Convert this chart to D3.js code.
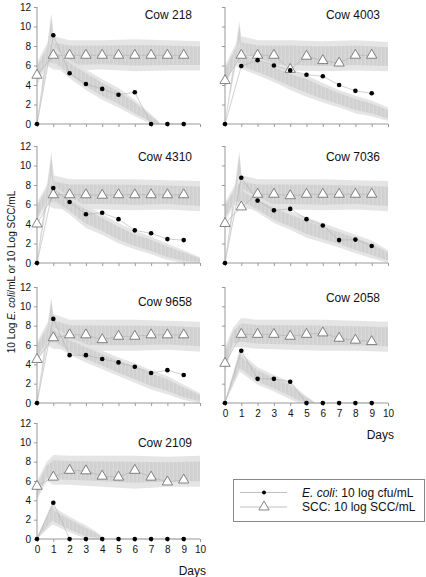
<!DOCTYPE html>
<html>
<head>
<meta charset="utf-8">
<script src="https://cdn.jsdelivr.net/npm/d3@7"></script>
<style>
  html, body { margin: 0; padding: 0; background: #fff; }
  svg { display: block; font-family: Arial, "Liberation Sans", sans-serif; }
</style>
</head>
<body>
<svg id="chart" width="426" height="577"></svg>
<script>
// ---------------- DATA ----------------
const days = [0, 1, 2, 3, 4, 5, 6, 7, 8, 9];
const xTickLabels = [0, 1, 2, 3, 4, 5, 6, 7, 8, 9, 10];
const yTickLabels = [0, 2, 4, 6, 8, 10, 12];
const cowLabels = ["Cow 218", "Cow 4003", "Cow 4310", "Cow 7036", "Cow 9658", "Cow 2058", "Cow 2109"];

// E. coli: 10 log cfu/mL (black dots)
const ecoli218  = [0, 9.1, 5.2, 4.1, 3.6, 3.0, 3.25, 0, 0, 0];
const ecoli4003 = [0, 5.95, 6.55, 6.0, 5.5, 5.05, 4.9, 4.0, 3.4, 3.15];
const ecoli4310 = [0, 7.7, 6.25, 5.0, 5.15, 4.5, 3.35, 3.05, 2.45, 2.35];
const ecoli7036 = [0, 8.75, 6.4, 5.4, 5.55, 4.5, 3.85, 2.35, 2.4, 1.75];
const ecoli9658 = [0, 8.7, 4.95, 4.95, 4.55, 4.2, 3.75, 3.1, 3.4, 2.9];
const ecoli2058 = [0, 5.4, 2.5, 2.5, 2.2, 0, 0, 0, 0, 0];
const ecoli2109 = [0, 3.75, 0, 0, 0, 0, 0, 0, 0, 0];

// SCC: 10 log SCC/mL (open triangles)
const scc218  = [5.0, 7.05, 7.05, 7.05, 7.05, 7.05, 7.05, 7.05, 7.05, 7.05];
const scc4003 = [4.45, 7.05, 7.05, 7.05, 5.6, 6.95, 6.5, 6.25, 7.05, 7.05];
const scc4310 = [4.0, 7.0, 7.0, 7.0, 6.95, 7.0, 7.0, 7.0, 7.0, 7.0];
const scc7036 = [4.05, 5.75, 7.05, 7.05, 6.9, 7.05, 7.05, 7.05, 7.05, 7.05];
const scc9658 = [4.5, 6.75, 7.05, 7.05, 6.55, 6.9, 6.9, 7.05, 7.05, 7.05];
const scc2058 = [4.1, 7.1, 7.1, 7.1, 6.9, 7.1, 7.25, 6.7, 6.5, 6.35];
const scc2109 = [5.45, 6.4, 7.1, 7.05, 6.5, 6.4, 7.1, 6.4, 5.9, 6.1];

// Grey simulation envelopes: [day, low, high]
const ecoliBand218  = [[0,0,0.2],[0.88,8.6,11.4],[1.1,6.0,7.8],[2,4.7,6.6],[3,3.5,5.6],[4,2.5,4.6],[5,1.7,3.7],[6,0.8,2.5],[7,0,1.0],[7.5,0,0.2]];
const ecoliBand4003 = [[0,0,0.2],[0.88,8.0,10.6],[1.1,5.6,7.4],[2,5.0,6.8],[3,4.3,6.2],[4,3.5,5.5],[5,2.8,5.0],[6,2.2,4.2],[7,1.7,3.5],[8,1.1,2.9],[9,0.8,2.4],[10,0.3,1.7]];
const ecoliBand4310 = [[0,0,0.2],[0.88,8.5,11.4],[1.1,6.0,7.8],[2,5.0,6.8],[3,3.6,5.9],[4,2.9,5.0],[5,2.0,4.1],[6,1.4,3.3],[7,0.9,2.7],[8,0.3,2.0],[9,0,1.3],[10,0,0.6]];
const ecoliBand7036 = [[0,0,0.2],[0.88,8.8,11.5],[1.1,6.0,7.6],[2,5.2,6.8],[3,4.1,6.0],[4,3.4,5.3],[5,2.6,4.7],[6,2.1,4.1],[7,1.6,3.5],[8,1.0,2.9],[9,0.5,2.3],[10,0,1.3]];
const ecoliBand9658 = [[0,0,0.2],[0.88,8.5,11.0],[1.1,6.0,7.8],[2,5.0,6.8],[3,4.2,6.1],[4,3.5,5.4],[5,2.8,4.7],[6,2.1,4.1],[7,1.4,3.4],[8,0.9,2.8],[9,0.3,1.9],[10,0,1.0]];
const ecoliBand2058 = [[0,0,0.2],[0.9,3.2,5.6],[1.1,3.0,5.0],[2,1.9,3.7],[3,1.2,2.9],[4,0.4,2.2],[4.5,0,1.4],[5,0,0.7],[5.5,0,0.1]];
const ecoliBand2109 = [[0,0,0.2],[0.95,1.5,3.8],[1.1,1.4,3.2],[2,0.7,2.3],[3,0,1.4],[3.6,0,0.8],[4.1,0,0.1]];

const sccBand218  = [[0,4.0,6.3],[0.6,6.0,8.2],[1,5.6,9.0],[2,5.5,8.6],[4,5.6,8.6],[6,5.4,8.7],[8,5.5,8.6],[10,5.5,8.5]];
const sccBand4003 = [[0,3.8,6.0],[0.6,6.0,8.0],[1,5.6,9.0],[2,5.6,8.6],[4,5.5,8.6],[6,5.4,8.5],[8,5.5,8.6],[10,5.4,8.4]];
const sccBand4310 = [[0,4.3,6.2],[0.6,6.0,8.0],[1,5.6,9.0],[2,5.5,8.6],[4,5.5,8.6],[6,5.4,8.6],[8,5.5,8.5],[10,5.3,8.4]];
const sccBand7036 = [[0,4.3,6.2],[0.6,6.0,8.0],[1,5.6,9.0],[2,5.5,8.6],[4,5.5,8.6],[6,5.4,8.6],[8,5.5,8.5],[10,5.3,8.4]];
const sccBand9658 = [[0,4.3,6.3],[0.6,6.0,8.2],[1,5.6,9.2],[2,5.5,8.6],[4,5.4,8.6],[6,5.4,8.6],[8,5.5,8.5],[10,5.3,8.4]];
const sccBand2058 = [[0,3.3,5.8],[0.5,5.8,7.8],[1,5.8,8.8],[2,5.6,8.6],[4,5.5,8.6],[6,5.4,8.6],[8,5.4,8.5],[10,5.3,8.4]];
const sccBand2109 = [[0,4.0,6.0],[0.6,6.0,8.0],[1,5.6,8.7],[2,5.6,8.6],[4,5.4,8.6],[6,5.2,8.6],[8,5.4,8.5],[10,5.4,8.6]];

const legendLabels = ["E. coli", ": 10 log cfu/mL", "SCC: 10 log SCC/mL"];
const yTitleParts = ["10 Log ", "E. coli", "/mL or 10 Log SCC/mL"];
const xTitle = "Days";

// ---------------- LAYOUT (style only) ----------------
const panelWidth = 163;
const layout = [
  {x0: 37,  yTop: 7,   yBot: 124, labelDy: 12, yLabels: true,  xLabels: false},
  {x0: 225, yTop: 7,   yBot: 124, labelDy: 12, yLabels: false, xLabels: false},
  {x0: 37,  yTop: 146, yBot: 263, labelDy: 15, yLabels: true,  xLabels: false},
  {x0: 225, yTop: 146, yBot: 263, labelDy: 15, yLabels: false, xLabels: false},
  {x0: 37,  yTop: 287, yBot: 403, labelDy: 19, yLabels: true,  xLabels: false},
  {x0: 225, yTop: 287, yBot: 403, labelDy: 15, yLabels: false, xLabels: true},
  {x0: 37,  yTop: 423, yBot: 539, labelDy: 24, yLabels: true,  xLabels: true}
];

const ecoliSeries = [ecoli218, ecoli4003, ecoli4310, ecoli7036, ecoli9658, ecoli2058, ecoli2109];
const sccSeries = [scc218, scc4003, scc4310, scc7036, scc9658, scc2058, scc2109];
const ecoliBands = [ecoliBand218, ecoliBand4003, ecoliBand4310, ecoliBand7036, ecoliBand9658, ecoliBand2058, ecoliBand2109];
const sccBands = [sccBand218, sccBand4003, sccBand4310, sccBand7036, sccBand9658, sccBand2058, sccBand2109];

const svg = d3.select("#chart");
const axisColor = "#999";

// pattern to suggest dense overlapping simulation traces
const defs = svg.append("defs");
const pat = defs.append("pattern").attr("id", "traces").attr("patternUnits", "userSpaceOnUse")
  .attr("width", 4).attr("height", 9);
pat.append("rect").attr("width", 4).attr("height", 9).attr("fill", "#cfcfcf");
pat.append("line").attr("x1", 1).attr("x2", 1.6).attr("y1", 0).attr("y2", 9).attr("stroke", "#dadada").attr("stroke-width", 0.9);
pat.append("line").attr("x1", 3).attr("x2", 2.6).attr("y1", 0).attr("y2", 9).attr("stroke", "#c6c6c6").attr("stroke-width", 0.6);

const triangle = d3.symbol().type(d3.symbolTriangle).size(46);

cowLabels.forEach((label, i) => {
  const L = layout[i];
  const x = d3.scaleLinear().domain([0, 10]).range([L.x0, L.x0 + panelWidth]);
  const y = d3.scaleLinear().domain([0, 12]).range([L.yBot, L.yTop]);
  const g = svg.append("g");

  // bands
  const drawBand = (band) => {
    const outer = d3.area().x(d => x(d[0])).y0(d => y(d[1])).y1(d => y(d[2]));
    const inner = d3.area().x(d => x(d[0]))
      .y0(d => y(d[1] + (d[2] - d[1]) * 0.18)).y1(d => y(d[2] - (d[2] - d[1]) * 0.18));
    g.append("path").attr("d", outer(band)).attr("fill", "#e2e2e2").attr("opacity", 0.9);
    g.append("path").attr("d", inner(band)).attr("fill", "url(#traces)").attr("opacity", 0.85);
  };
  drawBand(sccBands[i]);
  drawBand(ecoliBands[i]);

  // axes
  const xAxis = d3.axisBottom(x).tickValues(xTickLabels).tickSize(3)
    .tickFormat(L.xLabels ? d3.format("d") : () => "");
  const yAxis = d3.axisLeft(y).tickValues(yTickLabels).tickSize(3)
    .tickFormat(L.yLabels ? d3.format("d") : () => "");
  const gx = g.append("g").attr("transform", `translate(0,${L.yBot})`).call(xAxis);
  const gy = g.append("g").attr("transform", `translate(${L.x0},0)`).call(yAxis);
  [gx, gy].forEach(a => {
    a.select(".domain").attr("stroke", axisColor).attr("stroke-width", 1);
    a.selectAll(".tick line").attr("stroke", axisColor);
    a.selectAll("text").attr("fill", "#111").style("font-size", "10px")
      .style("font-family", "Arial, 'Liberation Sans', sans-serif");
  });
  gx.selectAll("text").attr("y", 7);
  gy.selectAll("text").attr("x", -6);
  gx.select(".domain").attr("d", `M${L.x0},0H${L.x0 + panelWidth}`);
  gy.select(".domain").attr("d", `M0,${L.yBot}V${L.yTop}`);

  if (L.xLabels) {
    g.append("text").attr("x", L.x0 + 169).attr("y", L.yBot + 35.5)
      .attr("text-anchor", "end").style("font-size", "12px").attr("fill", "#111").text(xTitle);
  }

  // connecting lines
  const line = d3.line().x((d, k) => x(days[k])).y(d => y(d));
  g.append("path").attr("d", line(ecoliSeries[i])).attr("fill", "none")
    .attr("stroke", "#b0b0b0").attr("stroke-width", 0.6);
  g.append("path").attr("d", line(sccSeries[i])).attr("fill", "none")
    .attr("stroke", "#b0b0b0").attr("stroke-width", 0.6);

  // markers
  g.selectAll(".tri").data(sccSeries[i]).enter().append("path")
    .attr("transform", (d, k) => `translate(${x(days[k])},${y(d)})`)
    .attr("d", triangle).attr("fill", "#fff").attr("stroke", "#666").attr("stroke-width", 0.8);
  g.selectAll(".dot").data(ecoliSeries[i]).enter().append("circle")
    .attr("cx", (d, k) => x(days[k])).attr("cy", d => y(d)).attr("r", 2.3).attr("fill", "#000");

  // cow label
  g.append("text").attr("x", L.x0 + 155).attr("y", L.yTop + L.labelDy)
    .attr("text-anchor", "end").style("font-size", "12px").attr("fill", "#111").text(label);
});

// y title
const yt = svg.append("text").attr("transform", "translate(15,272) rotate(-90)")
  .attr("text-anchor", "middle").style("font-size", "10px").attr("fill", "#111");
yt.append("tspan").text(yTitleParts[0]);
yt.append("tspan").style("font-style", "italic").text(yTitleParts[1]);
yt.append("tspan").text(yTitleParts[2]);

// legend
const lg = svg.append("g");
lg.append("rect").attr("x", 233.5).attr("y", 479.5).attr("width", 191).attr("height", 42)
  .attr("fill", "#fff").attr("stroke", "#888").attr("stroke-width", 1);
const rows = [492.5, 507];
rows.forEach(ry => {
  lg.append("line").attr("x1", 240).attr("x2", 287).attr("y1", ry).attr("y2", ry)
    .attr("stroke", "#b0b0b0").attr("stroke-width", 0.8);
});
lg.append("circle").attr("cx", 264).attr("cy", rows[0]).attr("r", 2).attr("fill", "#000");
lg.append("path").attr("transform", `translate(264,${rows[1]})`).attr("d", triangle)
  .attr("fill", "#fff").attr("stroke", "#666").attr("stroke-width", 0.8);
const t1 = lg.append("text").attr("x", 302).attr("y", rows[0] + 4.2).style("font-size", "12px").attr("fill", "#111");
t1.append("tspan").style("font-style", "italic").text(legendLabels[0]);
t1.append("tspan").text(legendLabels[1]);
lg.append("text").attr("x", 302).attr("y", rows[1] + 4.2).style("font-size", "12px").attr("fill", "#111").text(legendLabels[2]);
</script>
</body>
</html>
